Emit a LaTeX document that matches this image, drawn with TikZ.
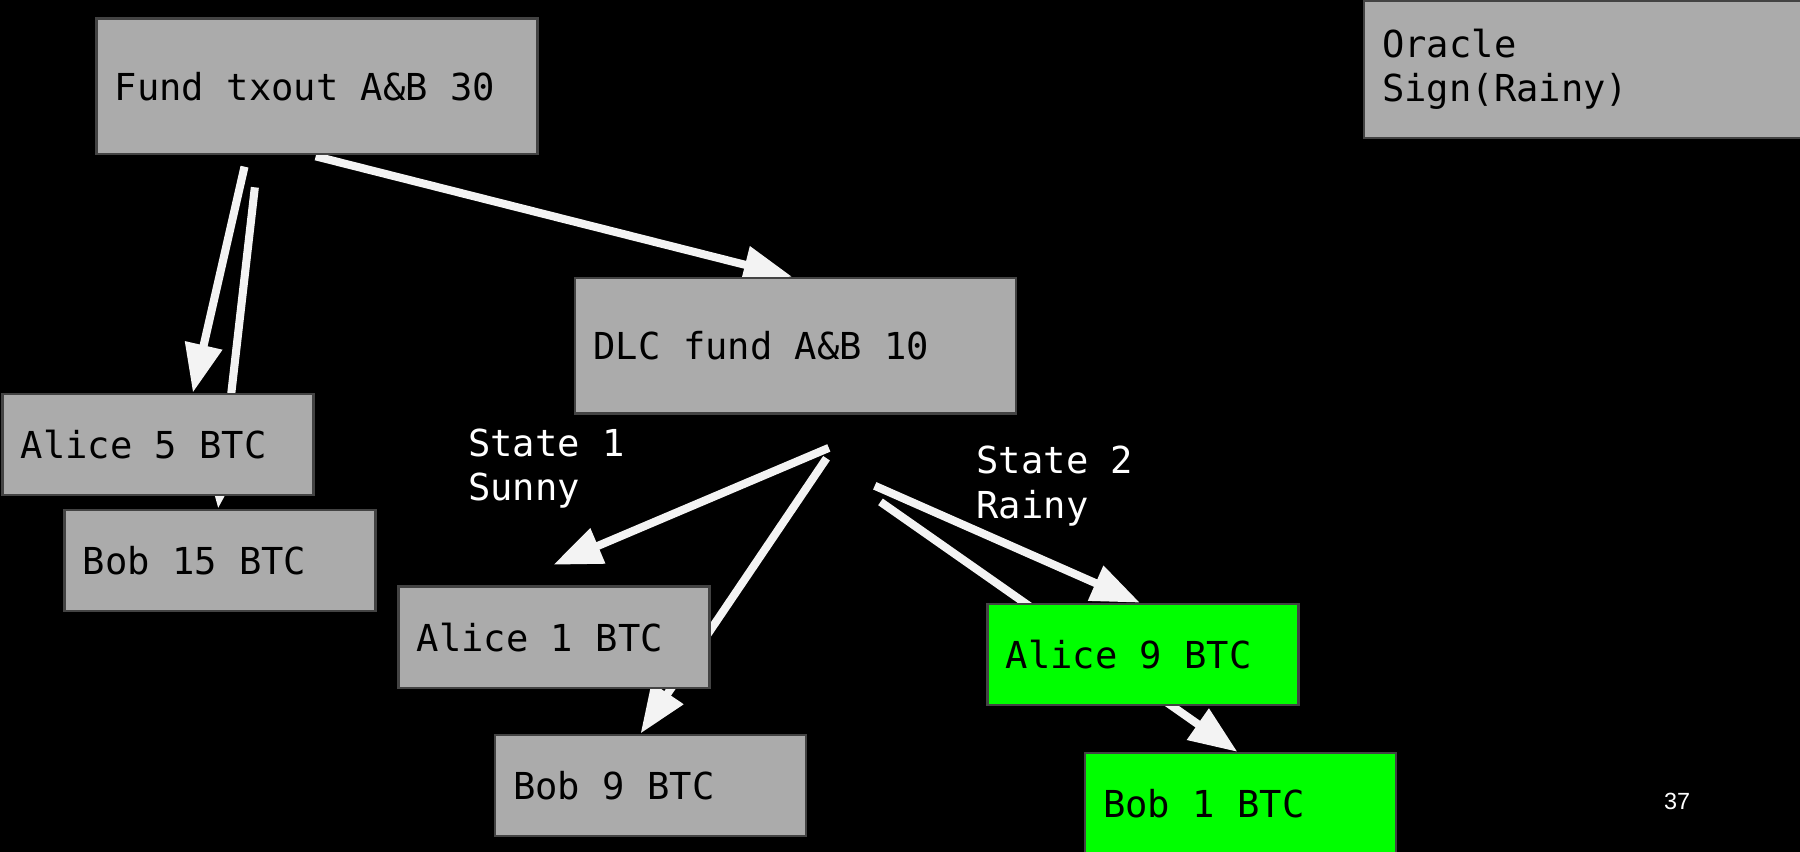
\documentclass[tikz,border=0pt]{standalone}
\usepackage{fontspec}
\setmainfont{DejaVu Sans Mono}
\setmonofont{DejaVu Sans Mono}
\newfontfamily\pagefont{Liberation Sans}
\usetikzlibrary{arrows.meta}
\pgfdeclarelayer{back}
\pgfdeclarelayer{wires}
\pgfsetlayers{back,wires,main}
\definecolor{boxgray}{HTML}{ABABAB}
\definecolor{boxedge}{HTML}{434343}
\definecolor{wirecol}{HTML}{F3F3F3}
\definecolor{paid}{HTML}{00FF00}
\newcommand\boxfont{\ttfamily\fontsize{9.2}{11}\selectfont}
\newcommand\monospaces{\spaceskip=0.602em\relax\xspaceskip=0.602em\relax}

\begin{document}
\begin{tikzpicture}[x=0.01cm,y=-0.01cm,
	box/.style={draw=boxedge,line width=0.6pt,fill=boxgray,anchor=north west,inner xsep=0.16cm,inner ysep=0pt,font=\boxfont,execute at begin node=\monospaces,text=black},
	wide/.style={box,text width=3.52cm,minimum height=1.18cm},
	coin/.style={box,text width=2.39cm,minimum height=0.88cm},
	won/.style={coin,fill=paid},
	state/.style={anchor=north west,inner sep=0pt,align=left,font=\boxfont,text=white},
	wire/.style={draw=wirecol,line width=2pt,-{Triangle[length=12pt,width=9pt]}}]
	\useasboundingbox (0,0) rectangle (1568,742);
	\begin{pgfonlayer}{back}
		\fill[black] (0,0) rectangle (1568,742);
	\end{pgfonlayer}

	\node[wide] (fund) at (83,15) {Fund txout A\&B 30};
	\node[wide] (dlc) at (500,241) {DLC fund A\&B 10};
	\node[box,text width=3.68cm,minimum height=1.19cm] (oracle) at (1187,0) {Oracle\\Sign(Rainy)};

	\node[coin] (alice5) at (1,342) {Alice 5 BTC};
	\node[coin] (bob15) at (55,443) {Bob 15 BTC};
	\node[coin] (alice1) at (346,510) {Alice 1 BTC};
	\node[coin] (bob9) at (430,639) {Bob 9 BTC};
	\node[won] (alice9) at (859,525) {Alice 9 BTC};
	\node[won] (bob1) at (944,655) {Bob 1 BTC};

	\node[state] (sunny) at (407,373) {State 1\\Sunny};
	\node[state] (rainy) at (850,388) {State 2\\Rainy};
	\node[text=white,font=\pagefont\fontsize{5.8}{7}\selectfont] (page) at (1461,698) {37};

\begin{pgfonlayer}{wires}
	\draw[wire] ([shift={(130,10)}]fund.south west) -- ([shift={(167,0)}]alice5.north west);
	\draw[wire] ([shift={(139,28)}]fund.south west) -- ([shift={(135,0)}]bob15.north west);
	\draw[wire] ([shift={(192,1)}]fund.south west) -- ([shift={(190,0)}]dlc.north west);
	\draw[wire] ([shift={(222,29)}]dlc.south west) -- ([shift={(136,-18)}]alice1.north west);
	\draw[wire] ([shift={(220,38)}]dlc.south west) -- ([shift={(128,0)}]bob9.north west);
	\draw[wire] ([shift={(262,62)}]dlc.south west) -- ([shift={(134,0)}]alice9.north west);
	\draw[wire] ([shift={(267,76)}]dlc.south west) -- ([shift={(134,0)}]bob1.north west);
\end{pgfonlayer}
\end{tikzpicture}
\end{document}
